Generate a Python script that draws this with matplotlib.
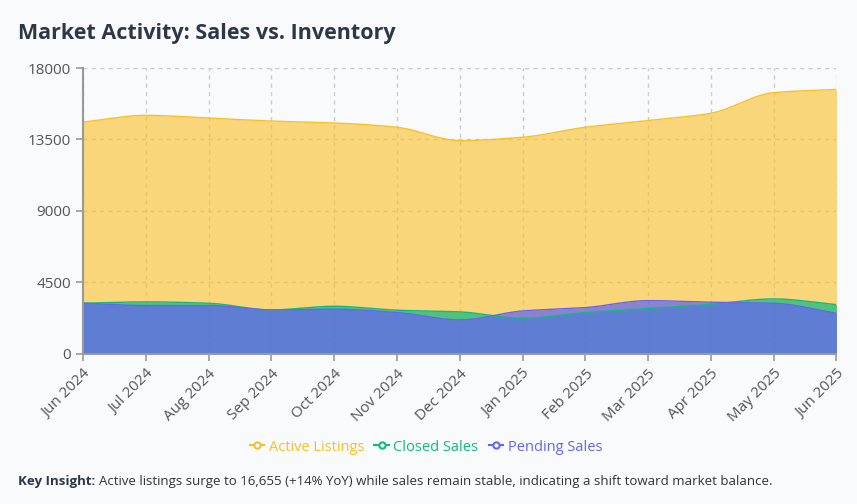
"""Market activity: active listings vs closed / pending sales (overlapping areas)."""
import numpy as np
import matplotlib
matplotlib.use("Agg")
import matplotlib.pyplot as plt
from matplotlib.lines import Line2D

months = ["Jun 2024", "Jul 2024", "Aug 2024", "Sep 2024", "Oct 2024", "Nov 2024",
          "Dec 2024", "Jan 2025", "Feb 2025", "Mar 2025", "Apr 2025", "May 2025",
          "Jun 2025"]
active = [14600, 15020, 14850, 14660, 14540, 14270, 13430, 13640, 14270, 14690,
          15150, 16450, 16655]
closed = [3185, 3270, 3185, 2765, 2995, 2745, 2640, 2240, 2600, 2850, 3120, 3457, 3100]
pending = [3185, 3040, 3040, 2765, 2810, 2600, 2137, 2700, 2910, 3350, 3250, 3185, 2560]
yticks = [0, 4500, 9000, 13500, 18000]

BG = "#f8fafc"
series = [
    ("Active Listings", active, "#fbbf24", 0.6),
    ("Closed Sales", closed, "#10b981", 0.72),
    ("Pending Sales", pending, "#6366f1", 0.74),
]

plt.rcParams["font.family"] = ["Open Sans", "DejaVu Sans"]


def smooth(xs, ys, n=24):
    # monotone cubic hermite, only for drawing the curve between points
    xs = np.asarray(xs, float)
    ys = np.asarray(ys, float)
    d = np.diff(ys) / np.diff(xs)
    m = np.zeros_like(ys)
    m[0], m[-1] = d[0], d[-1]
    for k in range(1, len(ys) - 1):
        if d[k - 1] * d[k] > 0:
            m[k] = 2 / (1 / d[k - 1] + 1 / d[k])
    px, py = [], []
    for k in range(len(xs) - 1):
        h = xs[k + 1] - xs[k]
        t = np.linspace(0, 1, n, endpoint=False)
        h00 = 2 * t**3 - 3 * t**2 + 1
        h10 = t**3 - 2 * t**2 + t
        h01 = -2 * t**3 + 3 * t**2
        h11 = t**3 - t**2
        px.extend(xs[k] + t * h)
        py.extend(h00 * ys[k] + h10 * h * m[k] + h01 * ys[k + 1] + h11 * h * m[k + 1])
    px.append(xs[-1])
    py.append(ys[-1])
    return np.array(px), np.array(py)


fig = plt.figure(figsize=(8.57, 5.04), dpi=100, facecolor=BG)
ax = fig.add_axes([0.097, 0.298, 0.879, 0.567], facecolor=BG)

x = np.arange(len(months))
for name, vals, col, a in series:
    sx, sy = smooth(x, vals)
    ax.fill_between(sx, 0, sy, color=col, alpha=a, lw=0)
    ax.plot(sx, sy, color=col, lw=1.0)

ax.set_xlim(0, len(months) - 1)
ax.set_ylim(0, 18000)
ax.set_xticks(x)
ax.set_xticklabels(months, rotation=45, ha="right", rotation_mode="anchor",
                   fontsize=11, color="#555555")
ax.set_yticks(yticks)
ax.set_yticklabels([str(v) for v in yticks], fontsize=11, color="#555555")
ax.tick_params(axis="both", length=5, color="#999999", width=1.2)
ax.tick_params(axis="x", pad=4)
ax.grid(True, ls=(0, (3, 3)), color="#cccccc", lw=1)
ax.set_axisbelow(True)
for s in ("top", "right"):
    ax.spines[s].set_visible(False)
for s in ("left", "bottom"):
    ax.spines[s].set_color("#999999")
    ax.spines[s].set_linewidth(1.5)
    ax.spines[s].set_zorder(5)

fig.text(0.021, 0.934, "Market Activity: Sales vs. Inventory", fontsize=15.5,
         fontweight="bold", color="#2d3748", va="center")

handles = [Line2D([], [], color=col, lw=1.5, marker="o", ms=4.5, mfc="white",
                  mew=1.5) for _, _, col, _ in series]
leg = fig.legend(handles, [s[0] for s in series], loc="center",
                 bbox_to_anchor=(0.497, 0.113), ncol=3, frameon=False,
                 fontsize=10.5, handlelength=1.0, handletextpad=0.3,
                 columnspacing=0.7)
for t, (_, _, col, _) in zip(leg.get_texts(), series):
    t.set_color(col)

r = fig.canvas.get_renderer()
k = fig.text(0.021, 0.045, "Key Insight:", fontsize=9.5, fontweight="bold",
             color="#2d3748", va="center")
bb = k.get_window_extent(r)
fig.text(bb.x1 / fig.bbox.width + 0.004, 0.045,
         "Active listings surge to 16,655 (+14% YoY) while sales remain stable, "
         "indicating a shift toward market balance.",
         fontsize=9.5, color="#333333", va="center")

fig.savefig("out.png", dpi=100, facecolor=BG)
print("wrote out.png")
